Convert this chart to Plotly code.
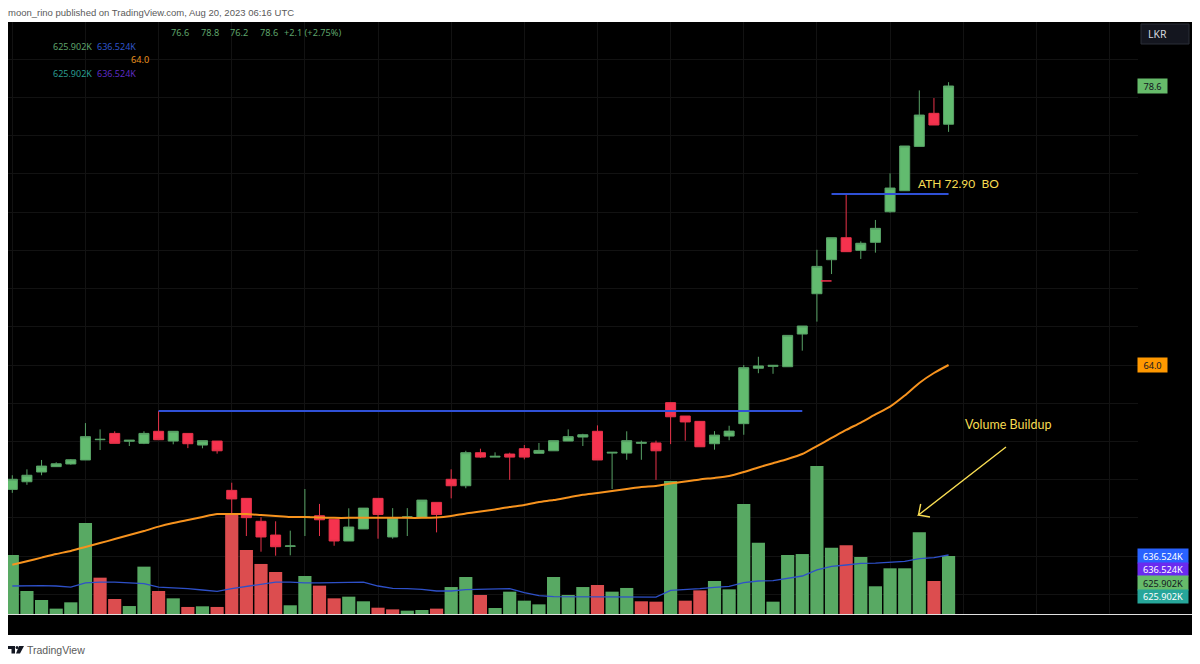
import plotly.graph_objects as go

# price candles
opens = [57.49, 57.89, 58.40, 58.68, 58.82, 59.03, 60.09, 60.42, 60.01, 59.90, 60.53, 60.02, 60.42, 59.81, 60.02,
         57.44, 57.02, 55.82, 55.10, 54.51, 56.03, 56.11, 55.92, 54.79, 55.42, 57.02, 55.00, 56.01, 56.01, 56.81,
         58.02, 57.68, 59.41, 59.18, 59.34, 59.62, 59.38, 59.51, 60.02, 60.23, 60.53, 59.39, 59.39, 59.90, 59.92,
         62.03, 61.33, 61.05, 59.88, 60.28, 60.93, 63.83, 63.93, 63.91, 65.62, 67.73, 69.51, 70.66, 70.00, 70.42,
         72.02, 73.12, 75.44, 77.17, 76.6]
highs = [58.23, 58.54, 59.03, 58.91, 59.08, 60.96, 60.63, 60.53, 60.06, 60.53, 61.59, 60.53, 60.42, 60.04, 60.02,
         57.84, 57.02, 56.03, 55.82, 55.33, 57.51, 56.73, 55.92, 56.50, 56.51, 57.02, 56.51, 56.51, 56.93, 56.81,
         58.54, 59.51, 59.62, 59.43, 59.41, 59.81, 59.92, 60.04, 60.63, 60.40, 60.84, 59.43, 60.53, 60.04, 60.04,
         62.03, 61.33, 61.05, 60.54, 60.82, 64.00, 64.43, 63.98, 65.55, 66.04, 70.03, 70.66, 72.95, 70.47, 71.59,
         74.03, 75.46, 78.37, 77.97, 78.8]
lows = [57.31, 57.73, 58.23, 58.68, 58.78, 59.03, 59.55, 59.90, 59.76, 59.86, 60.09, 59.85, 59.65, 59.64, 59.36,
        56.24, 55.05, 54.23, 54.02, 54.04, 55.05, 55.05, 54.54, 54.79, 55.42, 54.91, 54.91, 55.05, 56.01, 55.24,
        57.02, 57.55, 59.13, 59.18, 57.99, 59.06, 59.38, 59.51, 60.02, 59.76, 59.03, 57.51, 59.04, 59.04, 57.99,
        59.86, 60.04, 59.72, 59.57, 60.06, 60.35, 63.57, 63.54, 63.91, 64.75, 66.27, 68.76, 69.93, 69.55, 69.88,
        71.97, 73.12, 75.44, 76.56, 76.2]
closes = [58.02, 58.23, 58.71, 58.83, 59.04, 60.25, 60.11, 59.90, 60.06, 60.42, 60.09, 60.53, 59.88, 60.04, 59.51,
          56.99, 56.01, 55.00, 54.49, 54.53, 56.05, 55.90, 54.79, 55.52, 56.51, 56.18, 56.00, 56.05, 56.93, 56.18,
          57.68, 59.41, 59.18, 59.22, 59.18, 59.18, 59.53, 60.04, 60.25, 60.35, 59.03, 59.43, 60.04, 59.95, 59.51,
          61.29, 61.02, 59.72, 60.33, 60.54, 63.86, 63.95, 63.98, 65.55, 66.04, 69.16, 70.66, 69.93, 70.37, 71.15,
          73.26, 75.46, 77.08, 76.56, 78.6]

# moving average on price
ma_price = [53.55, 53.73, 53.92, 54.11, 54.27, 54.48, 54.68, 54.89, 55.10, 55.31, 55.54, 55.73, 55.89, 56.05, 56.20,
            56.20, 56.20, 56.15, 56.10, 56.05, 56.05, 56.02, 56.00, 56.00, 56.00, 56.00, 56.00, 56.00, 56.00, 56.02,
            56.10, 56.23, 56.33, 56.44, 56.57, 56.67, 56.83, 56.93, 57.07, 57.21, 57.30, 57.41, 57.51, 57.62, 57.67,
            57.80, 57.90, 58.01, 58.09, 58.19, 58.40, 58.64, 58.86, 59.08, 59.34, 59.76, 60.18, 60.60, 60.99, 61.41,
            61.82, 62.40, 63.06, 63.58, 64.0]

# volume in thousands
volume = [637, 248, 151, 58, 126, 982, 392, 162, 86, 511, 248, 169, 76, 83, 76,
          1076, 691, 540, 453, 94, 410, 306, 169, 187, 137, 68, 50, 36, 43, 58,
          291, 399, 205, 65, 241, 144, 104, 399, 205, 291, 313, 241, 281, 137, 133,
          1435, 144, 255, 356, 266, 1187, 770, 133, 637, 647, 1597, 716, 741, 615, 299,
          493, 493, 881, 356, 625.9]
volume_side = list("ggggggrrggrgrgr" "rrrrggrrggrrggr" "ggrggggggg" "rggrr" "grrggggggg" "ggrgg" "gggrg")
ma_volume = [302, 306, 306, 302, 291, 335, 345, 345, 335, 327, 291, 284, 273, 259, 245,
             273, 299, 324, 345, 345, 335, 335, 338, 345, 345, 302, 277, 273, 266, 248,
             248, 263, 266, 266, 273, 230, 198, 187, 187, 187, 187, 183, 183, 183, 183,
             255, 263, 273, 288, 299, 338, 356, 360, 388, 410, 475, 514, 529, 547, 550,
             558, 568, 597, 608, 636.5]

# drawn levels and the small red dash next to bar 55
base_x = [10, 54]
base_y = [61.59, 61.59]
ath_x = [56, 64]
ath_y = [72.95, 72.95]
dash_x = [55.27, 56]
dash_y = [68.4, 68.4]

# pixel helpers for text and drawings
def px(x):
    return (x - 8) / 1184


def py(y):
    return (635 - y) / 613


bars = list(range(len(closes)))
BULL, BEAR = "#62BB6F", "#F5324E"
VOL_BULL, VOL_BEAR = "#58A963", "#DC4D4F"
YELLOW = "#F7DC52"
GRID = "#121212"

fig = go.Figure()
fig.add_trace(go.Bar(x=bars, y=volume, width=0.9, yaxis="y",
                     marker=dict(color=[VOL_BULL if s == "g" else VOL_BEAR for s in volume_side], line_width=0)))
fig.add_trace(go.Scatter(x=bars, y=ma_volume, mode="lines", yaxis="y", line=dict(color="#2E50C8", width=1.3)))
fig.add_trace(go.Scatter(x=bars, y=ma_price, mode="lines", yaxis="y2",
                         line=dict(color="#F7931E", width=2, shape="spline", smoothing=0.6)))
fig.add_trace(go.Scatter(x=base_x, y=base_y, mode="lines", yaxis="y2", line=dict(color="#2F50D6", width=2)))
fig.add_trace(go.Scatter(x=ath_x, y=ath_y, mode="lines", yaxis="y2", line=dict(color="#2F50D6", width=2)))
fig.add_trace(go.Scatter(x=dash_x, y=dash_y, mode="lines", yaxis="y2", line=dict(color=BEAR, width=1.5)))
fig.add_trace(go.Candlestick(x=bars, open=opens, high=highs, low=lows, close=closes, yaxis="y2", whiskerwidth=0,
                             increasing=dict(fillcolor=BULL, line=dict(color="#58A266", width=1)),
                             decreasing=dict(fillcolor=BEAR, line=dict(color="#E8334A", width=1))))

shapes = [
    # blank out the grid behind the price scale and under the baseline
    dict(type="rect", xref="paper", yref="paper", x0=px(1138), x1=1, y0=0, y1=1, fillcolor="black", line_width=0),
    dict(type="rect", xref="paper", yref="paper", x0=0, x1=1, y0=0, y1=py(614.5), fillcolor="black", line_width=0),
    # volume baseline
    dict(type="line", xref="paper", yref="paper", x0=0, x1=1, y0=py(614.5), y1=py(614.5),
         line=dict(color="#E0E0E0", width=1)),
    # hand drawn arrow
    dict(type="path", xref="paper", yref="paper", line=dict(color=YELLOW, width=1.4),
         path=f"M{px(1006)},{py(447)} L{px(918.5)},{py(515)} L{px(930)},{py(517)} "
              f"M{px(918.5)},{py(515)} L{px(920.7)},{py(504)}"),
    # currency button
    dict(type="rect", xref="paper", yref="paper", x0=px(1141), x1=px(1189), y0=py(44), y1=py(24),
         fillcolor="#14161F", line=dict(color="#2A2E39", width=1)),
    # logo
    dict(type="path", xref="paper", yref="paper", fillcolor="#131722", line_width=0,
         path=f"M{px(8)},{py(646)} L{px(15)},{py(646)} L{px(15)},{py(653.5)} L{px(11.5)},{py(653.5)} "
              f"L{px(11.5)},{py(649)} L{px(8)},{py(649)} Z "
              f"M{px(19)},{py(646)} L{px(24)},{py(646)} L{px(20)},{py(653.5)} L{px(16)},{py(653.5)} Z"),
    dict(type="circle", xref="paper", yref="paper", x0=px(15.6), x1=px(18.4), y0=py(649), y1=py(646),
         fillcolor="#131722", line_width=0),
]


def label(text, x, y, color, size=9.2, anchor="left", font="Noto Sans", **kw):
    # annotations carry about 2px of padding on the left
    if anchor == "left":
        x -= 2
    return dict(text=text, xref="paper", yref="paper", x=px(x), y=py(y), xanchor=anchor, yanchor="middle",
                showarrow=False, font=dict(color=color, size=size, family=font), **kw)


def tag(text, x0, x1, y0, y1, bg, color):
    return label(text, (x0 + x1) / 2, (y0 + y1) / 2, color, anchor="center", bgcolor=bg,
                 width=x1 - x0, height=y1 - y0, borderpad=0)


annotations = [
    label("moon_rino published on TradingView.com, Aug 20, 2023 06:16 UTC", 8, 12, "#5A5A5A", size=9.5,
          font="Liberation Sans"),
    label("76.6", 171, 33, "#5FA46B"),
    label("78.8", 201, 33, "#5FA46B"),
    label("76.2", 230, 33, "#5FA46B"),
    label("78.6", 260, 33, "#5FA46B"),
    label("+2.1 (+2.75%)", 284, 33, "#5FA46B"),
    label("625.902K", 53, 47, "#5FA46B", size=9),
    label("636.524K", 97, 47, "#2F55C8", size=9),
    label("64.0", 131, 60, "#E8901E"),
    label("625.902K", 53, 73, "#2A9D8F", size=9),
    label("636.524K", 97, 73, "#5E2BC0", size=9),
    label("LKR", 1148, 34, "#D1D4DC", size=10.5),
    tag("78.6", 1138, 1167, 79, 93, "#66BB6A", "#131722"),
    tag("64.0", 1138, 1167, 358, 372, "#FF9800", "#131722"),
    tag("636.524K", 1138, 1188, 549, 563, "#2962FF", "#FFFFFF"),
    tag("636.524K", 1138, 1188, 563, 576, "#6A2BF0", "#FFFFFF"),
    tag("625.902K", 1138, 1188, 576, 590, "#66BB6A", "#131722"),
    tag("625.902K", 1138, 1188, 590, 603, "#26A69A", "#FFFFFF"),
    label("ATH 72.90  BO", 918, 183, YELLOW, size=12, font="Lato"),
    label("Volume Buildup", 965, 424, YELLOW, size=12.5, font="Lato"),
    label("TradingView", 27, 650, "#5A5A5A", size=10.5, font="Liberation Sans"),
]

fig.update_layout(
    width=1200, height=664,
    margin=dict(l=8, r=8, t=22, b=29),
    paper_bgcolor="white", plot_bgcolor="black",
    showlegend=False, boxgap=0.02,
    shapes=shapes, annotations=annotations,
    xaxis=dict(range=[-0.294, 80.64], rangeslider_visible=False, dtick=5, tick0=0, showticklabels=False,
               showgrid=True, gridcolor=GRID, gridwidth=1, zeroline=False, ticks=""),
    yaxis=dict(range=[-226.6, 6388], showgrid=False, zeroline=False, showticklabels=False, ticks=""),
    yaxis2=dict(range=[49.87, 81.95], overlaying="y", side="right", dtick=2, tick0=0, showgrid=True,
                gridcolor=GRID, gridwidth=1, zeroline=False, showticklabels=False, ticks=""),
)

fig.write_html("out.html", config=dict(displayModeBar=False), post_script="document.body.style.margin='0';")
